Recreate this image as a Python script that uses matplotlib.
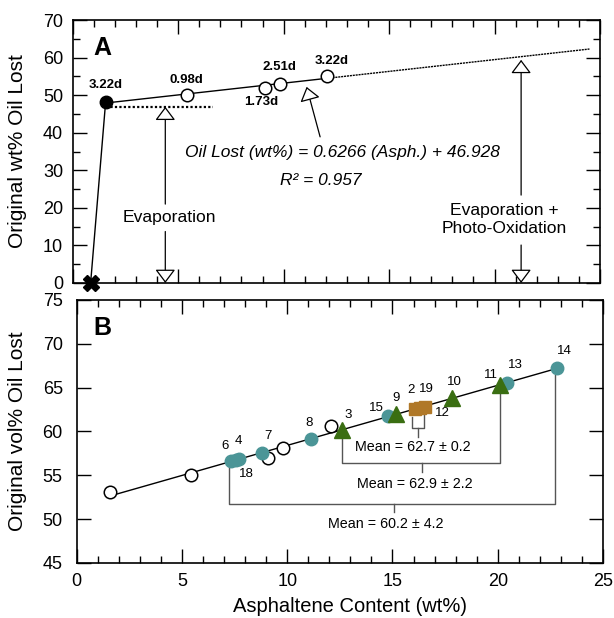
"""
Oil lost vs asphaltene content: (A) wt% time series, (B) vol% by sample.
"""
import numpy as np
import matplotlib
matplotlib.use("Agg")
import matplotlib.pyplot as plt
from matplotlib.ticker import MultipleLocator

plt.rcParams.update({
    "font.family": ["Liberation Sans", "DejaVu Sans"],
    "axes.linewidth": 1.2,
    "xtick.direction": "in",
    "ytick.direction": "in",
    "xtick.top": True,
    "ytick.right": True,
})

# ── Panel A data ───────────────────────────────────────────────
A_START = (0.85, 0.0)                       # unweathered oil (X)
A_FILLED = (1.56, 48.1)                     # first sample (filled)
A_OPEN_X = [5.41, 9.12, 9.83, 12.04]
A_OPEN_Y = [50.0, 52.0, 52.9, 55.2]
A_DAYS = ["0.98d", "1.73d", "2.51d", "3.22d"]
A_FILLED_DAY = "3.22d"
EQ_SLOPE, EQ_INT = 0.6266, 46.928
EQ_X_END = 24.5

# ── Panel B data ───────────────────────────────────────────────
OPEN_X = [1.58, 5.43, 9.10, 9.82, 12.07]
OPEN_Y = [53.07, 55.04, 57.0, 58.08, 60.6]

TEAL_ID = ["6", "18", "4", "7", "8", "15", "13", "14"]
TEAL_X = [7.35, 7.55, 7.72, 8.79, 11.12, 14.80, 20.46, 22.83]
TEAL_Y = [56.65, 56.75, 56.85, 57.58, 59.14, 61.77, 65.57, 67.28]

TRI_ID = ["3", "9", "10", "11"]
TRI_X = [12.61, 15.15, 17.85, 20.11]
TRI_Y = [60.17, 61.96, 63.78, 65.30]

SQ_ID = ["2", "12", "19"]
SQ_X = [16.05, 16.30, 16.55]
SQ_Y = [62.60, 62.72, 62.85]

COL_TEAL = "#4b9597"
COL_GREEN = "#3a6e12"
COL_BROWN = "#b07828"

# label positions (data coords) for sample numbers in B
LBL_POS = {
    "6": (7.05, 58.4), "4": (7.68, 58.95), "18": (8.07, 55.1),
    "7": (9.07, 59.5), "8": (11.04, 61.0), "3": (12.9, 61.9),
    "15": (14.22, 62.65), "9": (15.17, 63.85), "2": (15.88, 64.75),
    "19": (16.63, 64.8), "12": (17.39, 62.1), "10": (17.92, 65.7),
    "11": (19.67, 66.45), "13": (20.82, 67.6), "14": (23.16, 69.2),
}

MEAN_TXT = ["Mean = 62.7 \u00b1 0.2", "Mean = 62.9 \u00b1 2.2", "Mean = 60.2 \u00b1 4.2"]

fig = plt.figure(figsize=(6.14, 6.18), dpi=100)
axA = fig.add_axes([0.1184, 0.5421, 0.8588, 0.4255])
axB = fig.add_axes([0.1249, 0.0890, 0.8572, 0.4256])


def style(ax):
    ax.tick_params(which="major", length=10, width=1.0, labelsize=13)
    ax.tick_params(which="minor", length=5, width=1.0)
    ax.xaxis.set_major_locator(MultipleLocator(5))
    ax.xaxis.set_minor_locator(MultipleLocator(1))
    ax.set_xlim(0, 25)


def hollow_arrow(ax, tip, tail):
    ax.annotate("", xy=tip, xytext=tail,
                arrowprops=dict(arrowstyle="-|>,head_length=0.6,head_width=0.45",
                                fc="white", ec="black", lw=0.9,
                                shrinkA=0, shrinkB=0, mutation_scale=14))


# ══════════════════════════════════════════════════════════════════
# Panel A
# ══════════════════════════════════════════════════════════════════
ax = axA
style(ax)
ax.set_ylim(0, 70)
ax.yaxis.set_major_locator(MultipleLocator(10))
ax.yaxis.set_minor_locator(MultipleLocator(5))
ax.tick_params(axis="x", labelbottom=False)
ax.tick_params(axis="y", pad=7)

x_solid = np.array([A_FILLED[0], A_OPEN_X[-1]])
x_dash = np.array([A_OPEN_X[-1], EQ_X_END])
ax.plot(x_solid, EQ_SLOPE * x_solid + EQ_INT, color="black", lw=1.0, zorder=2)
ax.plot(x_dash, EQ_SLOPE * x_dash + EQ_INT, color="black", lw=1.0,
        ls=(0, (1.5, 0.6)), zorder=2)
ax.plot([A_START[0], A_FILLED[0]], [A_START[1], A_FILLED[1]], color="black", lw=1.0)
ax.plot([A_FILLED[0], 6.64], [EQ_INT, EQ_INT], color="black", lw=1.6, ls=(0, (1, 1)))

ax.plot(*A_START, marker="X", ms=11, color="black", clip_on=False, zorder=5)
ax.plot(*A_FILLED, marker="o", ms=9, mfc="black", mec="black", zorder=5)
ax.plot(A_OPEN_X, A_OPEN_Y, "o", ms=9, mfc="white", mec="black", mew=1.1, zorder=5)

ax.text(A_FILLED[0] + 0.0, A_FILLED[1] + 4.5, A_FILLED_DAY, ha="center", va="center",
        fontsize=9.5, fontweight="bold")
day_off = [(0.0, 4.0), (-0.2, -3.7), (-0.05, 4.5), (0.25, 4.0)]
for x, y, d, (dx, dy) in zip(A_OPEN_X, A_OPEN_Y, A_DAYS, day_off):
    ax.text(x + dx, y + dy, d, ha="center", va="center", fontsize=9.5, fontweight="bold")

ax.text(1.42, 62.6, "A", ha="center", va="center", fontsize=18, fontweight="bold")

# equation
hollow_arrow(ax, (11.09, 52.2), (11.73, 38.9))
ax.text(12.8, 34.8, "Oil Lost (wt%) = 0.6266 (Asph.) + 46.928", ha="center", va="center",
        fontsize=12.5, style="italic")
ax.text(11.76, 27.4, "R\u00b2 = 0.957", ha="center", va="center", fontsize=12.5,
        style="italic")

# evaporation arrows
hollow_arrow(ax, (4.39, EQ_INT), (4.39, 21.0))
hollow_arrow(ax, (4.39, 0.0), (4.39, 13.7))
ax.text(4.58, 17.4, "Evaporation", ha="center", va="center", fontsize=12.6)

hollow_arrow(ax, (21.26, 59.4), (21.26, 23.4))
hollow_arrow(ax, (21.26, 0.0), (21.26, 10.1))
ax.text(20.45, 16.8, "Evaporation +\nPhoto-Oxidation", ha="center", va="center",
        fontsize=12.6, linespacing=1.25)

ax.set_ylabel("Original wt% Oil Lost", fontsize=15)
ax.yaxis.set_label_coords(-0.087, 0.5)

# ══════════════════════════════════════════════════════════════════
# Panel B
# ══════════════════════════════════════════════════════════════════
ax = axB
style(ax)
ax.set_ylim(45, 75)
ax.yaxis.set_major_locator(MultipleLocator(5))
ax.tick_params(axis="y", which="minor", left=False, right=False)
ax.tick_params(axis="y", pad=10)
ax.tick_params(axis="x", pad=7.5)

all_x = np.array(OPEN_X + TEAL_X + TRI_X + SQ_X)
all_y = np.array(OPEN_Y + TEAL_Y + TRI_Y + SQ_Y)
k, b = np.polyfit(all_x, all_y, 1)
xl = np.array([all_x.min(), all_x.max()])
ax.plot(xl, k * xl + b, color="black", lw=1.0, zorder=2)

ax.plot(OPEN_X, OPEN_Y, "o", ms=9, mfc="white", mec="black", mew=1.1, zorder=4)
ax.plot(TEAL_X, TEAL_Y, "o", ms=9, color=COL_TEAL, zorder=4)
ax.plot(TRI_X, TRI_Y, "^", ms=11, color=COL_GREEN, zorder=5)
ax.plot(SQ_X, SQ_Y, "s", ms=9, color=COL_BROWN, zorder=4)

for sid, (lx, ly) in LBL_POS.items():
    ax.text(lx, ly, sid, ha="center", va="center", fontsize=9.5)

gray = dict(color="#555555", lw=1.0)
# bracket 1: brown squares
ax.plot([15.91, 15.91, 16.51, 16.51], [61.7, 60.36, 60.36, 62.0], **gray)
ax.plot([16.2, 16.2], [60.36, 59.35], **gray)
ax.text(15.96, 58.27, MEAN_TXT[0], ha="center", va="center", fontsize=10.3)
# bracket 2: green triangles
ax.plot([TRI_X[0], TRI_X[0], TRI_X[-1], TRI_X[-1]], [59.4, 56.44, 56.44, 64.6], **gray)
ax.plot([16.39, 16.39], [56.44, 55.4], **gray)
ax.text(16.04, 53.97, MEAN_TXT[1], ha="center", va="center", fontsize=10.3)
# bracket 3: teal circles
ax.plot([7.25, 7.25, 22.74, 22.74], [55.98, 51.69, 51.69, 66.44], **gray)
ax.plot([15.07, 15.07], [51.69, 50.78], **gray)
ax.text(14.68, 49.41, MEAN_TXT[2], ha="center", va="center", fontsize=10.3)

ax.text(1.23, 71.8, "B", ha="center", va="center", fontsize=18, fontweight="bold")

ax.set_ylabel("Original vol% Oil Lost", fontsize=15)
ax.yaxis.set_label_coords(-0.0945, 0.5)
ax.set_xlabel("Asphaltene Content (wt%)", fontsize=14.5)
ax.xaxis.set_label_coords(0.52, -0.13)

fig.savefig("out.png", dpi=100)
